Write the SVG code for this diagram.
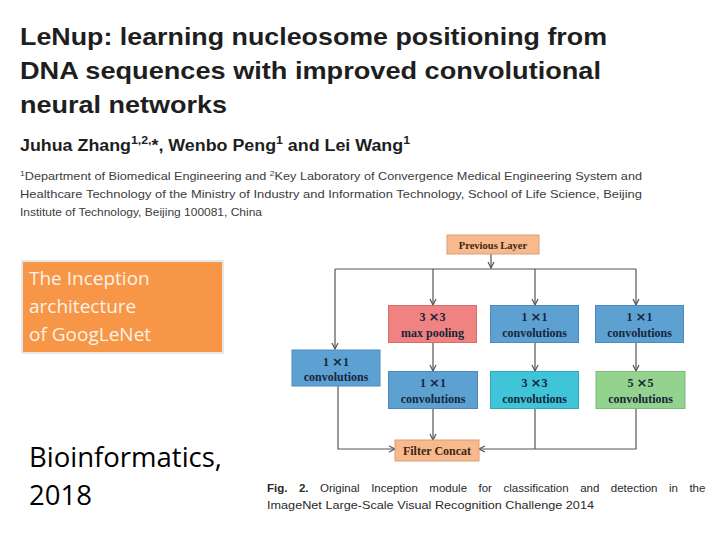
<svg xmlns="http://www.w3.org/2000/svg" width="720" height="540" viewBox="0 0 720 540">
<style>
.title{font-family:"Liberation Sans",Arial,sans-serif;font-weight:bold;font-size:24px;fill:#1e1e1e}
.auth{font-family:"Liberation Sans",Arial,sans-serif;font-weight:bold;font-size:16px;fill:#1e1e1e}
.aff{font-family:"Liberation Sans",Arial,sans-serif;font-size:11px;fill:#3c3c3c}
.cap{font-family:"Liberation Sans",Arial,sans-serif;font-size:11.5px;fill:#2a2a2a}
.box text{font-family:"Liberation Serif","Times New Roman",serif;font-weight:bold;font-size:12px;fill:#17263a;text-anchor:middle}
.box .x{font-family:"DejaVu Sans",sans-serif;font-size:13px}
.conn{stroke:#555;stroke-width:1.2;fill:none}
.note{font-family:"Open Sans","Noto Sans",sans-serif;fill:#fdf2e6;font-size:19px}
.big{font-family:"Open Sans","Noto Sans",sans-serif;fill:#000;font-size:27.5px}
</style>
<defs>
<marker id="ah" viewBox="0 0 8 8" refX="7" refY="4" markerWidth="8" markerHeight="8" markerUnits="userSpaceOnUse" orient="auto">
<path d="M1,1 L7,4 L1,7" fill="none" stroke="#555" stroke-width="1.2"/>
</marker>
</defs>
<rect width="720" height="540" fill="#fff"/>

<g id="title">
<text class="title" x="20" y="45" textLength="587" lengthAdjust="spacingAndGlyphs">LeNup: learning nucleosome positioning from</text>
<text class="title" x="20" y="79" textLength="581" lengthAdjust="spacingAndGlyphs">DNA sequences with improved convolutional</text>
<text class="title" x="20" y="113" textLength="207" lengthAdjust="spacingAndGlyphs">neural networks</text>
</g>
<g id="authors">
<text class="auth" x="20" y="151" textLength="390" lengthAdjust="spacingAndGlyphs">Juhua Zhang<tspan font-size="11" dy="-7">1,2,</tspan><tspan dy="7">*, Wenbo Peng</tspan><tspan font-size="11" dy="-7">1</tspan><tspan dy="7"> and Lei Wang</tspan><tspan font-size="11" dy="-7">1</tspan></text>
</g>
<g id="affiliation">
<text class="aff" x="20" y="180" textLength="622" lengthAdjust="spacingAndGlyphs"><tspan font-size="7.5" dy="-4">1</tspan><tspan dy="4">Department of Biomedical Engineering and </tspan><tspan font-size="7.5" dy="-4">2</tspan><tspan dy="4">Key Laboratory of Convergence Medical Engineering System and</tspan></text>
<text class="aff" x="20" y="198" textLength="622" lengthAdjust="spacingAndGlyphs">Healthcare Technology of the Ministry of Industry and Information Technology, School of Life Science, Beijing</text>
<text class="aff" x="20" y="216" textLength="242" lengthAdjust="spacingAndGlyphs">Institute of Technology, Beijing 100081, China</text>
</g>

<g id="note-inception">
<rect x="21" y="260" width="203" height="94" fill="#e8e8e8"/>
<rect x="23" y="262" width="199" height="90" fill="#f79646"/>
<text class="note" x="29" y="285">The Inception</text>
<text class="note" x="29" y="313">architecture</text>
<text class="note" x="29" y="341">of GoogLeNet</text>
</g>

<g id="note-journal">
<text class="big" x="29" y="467">Bioinformatics,</text>
<text class="big" x="29" y="505">2018</text>
</g>

<g id="connectors">
<line class="conn" x1="491" y1="254" x2="491" y2="268" marker-end="url(#ah)"/>
<line class="conn" x1="335" y1="269" x2="636" y2="269"/>
<line class="conn" x1="335" y1="269" x2="335" y2="349" marker-end="url(#ah)"/>
<line class="conn" x1="433" y1="269" x2="433" y2="305" marker-end="url(#ah)"/>
<line class="conn" x1="535" y1="269" x2="535" y2="305" marker-end="url(#ah)"/>
<line class="conn" x1="636" y1="269" x2="636" y2="305" marker-end="url(#ah)"/>
<line class="conn" x1="433" y1="342" x2="433" y2="371" marker-end="url(#ah)"/>
<line class="conn" x1="535" y1="343" x2="535" y2="371" marker-end="url(#ah)"/>
<line class="conn" x1="636" y1="343" x2="636" y2="371" marker-end="url(#ah)"/>
<polyline class="conn" points="338,386 338,449 395,449" marker-end="url(#ah)"/>
<line class="conn" x1="433" y1="408" x2="433" y2="440" marker-end="url(#ah)"/>
<line class="conn" x1="535" y1="408" x2="535" y2="449"/>
<polyline class="conn" points="636,408 636,449 479,449" marker-end="url(#ah)"/>
</g>

<g id="previous-layer" class="box">
<rect x="447" y="235" width="92" height="19" fill="#f8b98c" stroke="#d99f78" stroke-width="1"/>
<text x="493" y="248.5" style="font-size:10.5px;fill:#3b2816">Previous Layer</text>
</g>
<g id="maxpool" class="box">
<rect x="388.5" y="305.5" width="88" height="37" fill="#f08282" stroke="#d76e6e" stroke-width="1"/>
<text x="432.5" y="321">3 <tspan class="x">×</tspan>3</text>
<text x="432.5" y="337">max pooling</text>
</g>
<g id="conv1x1-b" class="box">
<rect x="490.5" y="305.5" width="88" height="37" fill="#5da0d2" stroke="#4c8abb" stroke-width="1"/>
<text x="534.5" y="321">1 <tspan class="x">×</tspan>1</text>
<text x="534.5" y="337">convolutions</text>
</g>
<g id="conv1x1-c" class="box">
<rect x="595.5" y="305.5" width="88" height="37" fill="#5da0d2" stroke="#4c8abb" stroke-width="1"/>
<text x="639.5" y="321">1 <tspan class="x">×</tspan>1</text>
<text x="639.5" y="337">convolutions</text>
</g>
<g id="conv1x1-a" class="box">
<rect x="292" y="350" width="88" height="36" fill="#5da0d2" stroke="#4c8abb" stroke-width="1"/>
<text x="336" y="365.5">1 <tspan class="x">×</tspan>1</text>
<text x="336" y="381">convolutions</text>
</g>
<g id="conv1x1-d" class="box">
<rect x="388.5" y="371.5" width="89" height="37" fill="#5da0d2" stroke="#4c8abb" stroke-width="1"/>
<text x="433" y="387">1 <tspan class="x">×</tspan>1</text>
<text x="433" y="403">convolutions</text>
</g>
<g id="conv3x3" class="box">
<rect x="490.5" y="371.5" width="88" height="37" fill="#3fc4d8" stroke="#35a9bb" stroke-width="1"/>
<text x="534.5" y="387">3 <tspan class="x">×</tspan>3</text>
<text x="534.5" y="403">convolutions</text>
</g>
<g id="conv5x5" class="box">
<rect x="596" y="371.5" width="89" height="37" fill="#93d38d" stroke="#7cbb77" stroke-width="1"/>
<text x="640.5" y="387">5 <tspan class="x">×</tspan>5</text>
<text x="640.5" y="403">convolutions</text>
</g>
<g id="filter-concat" class="box">
<rect x="395" y="440" width="84" height="21" fill="#f8b98c" stroke="#d99f78" stroke-width="1"/>
<text x="437" y="455" style="fill:#3b2816">Filter Concat</text>
</g>

<g id="caption">
<text class="cap" x="267" y="492" word-spacing="8.3"><tspan font-weight="bold">Fig. 2.</tspan> Original Inception module for classification and detection in the</text>
<text class="cap" x="267" y="509" textLength="327" lengthAdjust="spacingAndGlyphs">ImageNet Large-Scale Visual Recognition Challenge 2014</text>
</g>
</svg>
